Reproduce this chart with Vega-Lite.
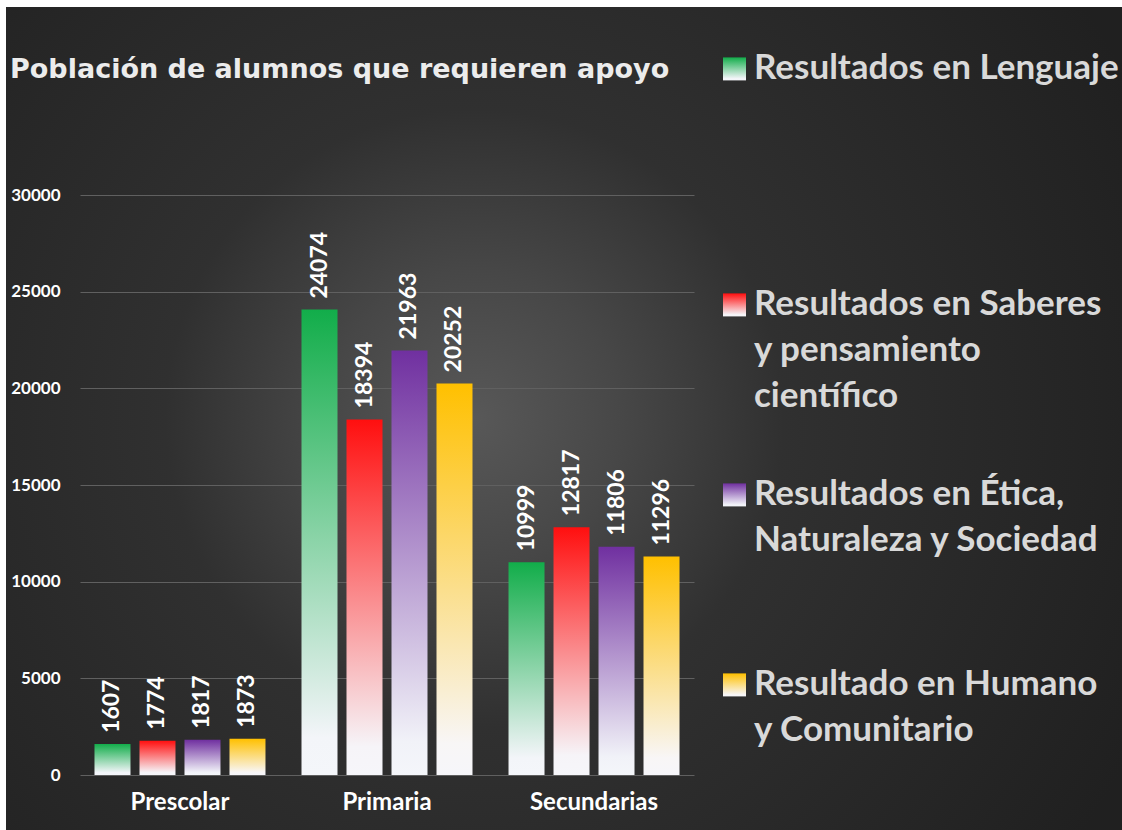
{
  "$schema": "https://vega.github.io/schema/vega-lite/v6.json",
  "width": 1116,
  "height": 823,
  "autosize": {"type": "none"},
  "padding": {"left": 6, "top": 7, "right": 0, "bottom": 0},
  "background": "#ffffff",
  "view": {
    "stroke": null,
    "fill": {
      "gradient": "radial",
      "x1": 0.42, "y1": 0.5, "r1": 0,
      "x2": 0.42, "y2": 0.5, "r2": 0.66,
      "stops": [
        {"offset": 0, "color": "#585858"},
        {"offset": 0.2, "color": "#474747"},
        {"offset": 0.42, "color": "#303030"},
        {"offset": 1, "color": "#202020"}
      ]
    }
  },
  "title": {
    "text": "Población de alumnos que requieren apoyo",
    "anchor": "start",
    "frame": "group",
    "orient": "top",
    "offset": 0,
    "dx": 4,
    "dy": 98,
    "baseline": "alphabetic",
    "font": "DejaVu Sans",
    "fontSize": 27,
    "fontWeight": "bold",
    "color": "#ececec"
  },
  "data": {
    "values": [
      {"nivel": "Prescolar", "serie": "Resultados en Lenguaje", "valor": 1607},
      {"nivel": "Prescolar", "serie": "Resultados en Saberes y pensamiento científico", "valor": 1774},
      {"nivel": "Prescolar", "serie": "Resultados en Ética, Naturaleza y Sociedad", "valor": 1817},
      {"nivel": "Prescolar", "serie": "Resultado en Humano y Comunitario", "valor": 1873},
      {"nivel": "Primaria", "serie": "Resultados en Lenguaje", "valor": 24074},
      {"nivel": "Primaria", "serie": "Resultados en Saberes y pensamiento científico", "valor": 18394},
      {"nivel": "Primaria", "serie": "Resultados en Ética, Naturaleza y Sociedad", "valor": 21963},
      {"nivel": "Primaria", "serie": "Resultado en Humano y Comunitario", "valor": 20252},
      {"nivel": "Secundarias", "serie": "Resultados en Lenguaje", "valor": 10999},
      {"nivel": "Secundarias", "serie": "Resultados en Saberes y pensamiento científico", "valor": 12817},
      {"nivel": "Secundarias", "serie": "Resultados en Ética, Naturaleza y Sociedad", "valor": 11806},
      {"nivel": "Secundarias", "serie": "Resultado en Humano y Comunitario", "valor": 11296}
    ]
  },
  "encoding": {
    "x": {
      "field": "nivel",
      "type": "nominal",
      "sort": null,
      "scale": {"range": [74, 688], "paddingInner": 0.174, "paddingOuter": 0.07},
      "axis": {
        "title": null,
        "orient": "bottom",
        "offset": -55,
        "labelFont": "Lato",
        "labelFontSize": 24,
        "labelFontWeight": "bold",
        "labelColor": "#ffffff",
        "labelPadding": 15,
        "labelAngle": 0,
        "domain": false,
        "ticks": false,
        "grid": false
      }
    },
    "xOffset": {
      "field": "serie",
      "type": "nominal",
      "sort": null,
      "scale": {
        "domain": ["Resultados en Lenguaje", "Resultados en Saberes y pensamiento científico", "Resultados en Ética, Naturaleza y Sociedad", "Resultado en Humano y Comunitario"],
        "paddingInner": 0.2,
        "paddingOuter": 0
      }
    },
    "y": {
      "field": "valor",
      "type": "quantitative",
      "scale": {"domain": [0, 30000], "range": [768, 188], "nice": false},
      "axis": {
        "title": null,
        "orient": "left",
        "offset": -72,
        "values": [0, 5000, 10000, 15000, 20000, 25000, 30000],
        "format": "d",
        "labelFont": "Lato",
        "labelFontSize": 17,
        "labelFontWeight": "bold",
        "labelColor": "#ffffff",
        "labelPadding": 18,
        "domain": false,
        "ticks": false,
        "grid": true,
        "gridColor": "#606060",
        "gridWidth": 1.2
      }
    }
  },
  "layer": [
    {
      "mark": {"type": "bar"},
      "encoding": {
        "color": {
          "field": "serie",
          "type": "nominal",
          "sort": null,
          "scale": {
            "domain": ["Resultados en Lenguaje", "Resultados en Saberes y pensamiento científico", "Resultados en Ética, Naturaleza y Sociedad", "Resultado en Humano y Comunitario"],
            "range": [
              {"expr": "{gradient:'linear',x1:0,y1:0,x2:0,y2:1,stops:[{offset:0,color:'#12ad4a'},{offset:0.92,color:'#f3f5f9'},{offset:1,color:'#f4f6fa'}]}"},
              {"expr": "{gradient:'linear',x1:0,y1:0,x2:0,y2:1,stops:[{offset:0,color:'#ff0f0f'},{offset:0.92,color:'#f6f4f8'},{offset:1,color:'#f6f6fa'}]}"},
              {"expr": "{gradient:'linear',x1:0,y1:0,x2:0,y2:1,stops:[{offset:0,color:'#7030a0'},{offset:0.92,color:'#f1f2f8'},{offset:1,color:'#f4f6fa'}]}"},
              {"expr": "{gradient:'linear',x1:0,y1:0,x2:0,y2:1,stops:[{offset:0,color:'#ffc000'},{offset:0.92,color:'#f8f6f6'},{offset:1,color:'#f6f6fa'}]}"}
            ]
          },
          "legend": {
            "orient": "none",
            "legendX": 711,
            "legendY": 26,
            "title": null,
            "padding": 0,
            "symbolType": "M-1,0.6H1V2.6H-1Z",
            "symbolSize": 529,
            "symbolStrokeWidth": 0,
            "labelFont": "Lato",
            "labelFontSize": 35,
            "labelFontWeight": "bold",
            "labelColor": "#d9d9d9",
            "labelBaseline": "top",
            "labelOffset": 2,
            "labelLimit": 600,
            "rowPadding": 45,
            "labelExpr": "datum.label === 'Resultados en Lenguaje' ? ['Resultados en Lenguaje', ' ', ' ', ' '] : datum.label === 'Resultados en Saberes y pensamiento científico' ? ['Resultados en Saberes', 'y pensamiento', 'científico'] : datum.label === 'Resultados en Ética, Naturaleza y Sociedad' ? ['Resultados en Ética,', 'Naturaleza y Sociedad', ' '] : ['Resultado en Humano', 'y Comunitario']",
            "encode": {"labels": {"update": {"lineHeight": {"value": 46}}}}
          }
        }
      }
    },
    {
      "mark": {
        "type": "text",
        "angle": 270,
        "align": "left",
        "baseline": "middle",
        "dx": 11,
        "font": "Lato",
        "fontSize": 23,
        "fontWeight": "bold",
        "color": "#ffffff"
      },
      "encoding": {
        "text": {"field": "valor", "type": "quantitative", "format": "d"}
      }
    }
  ]
}
